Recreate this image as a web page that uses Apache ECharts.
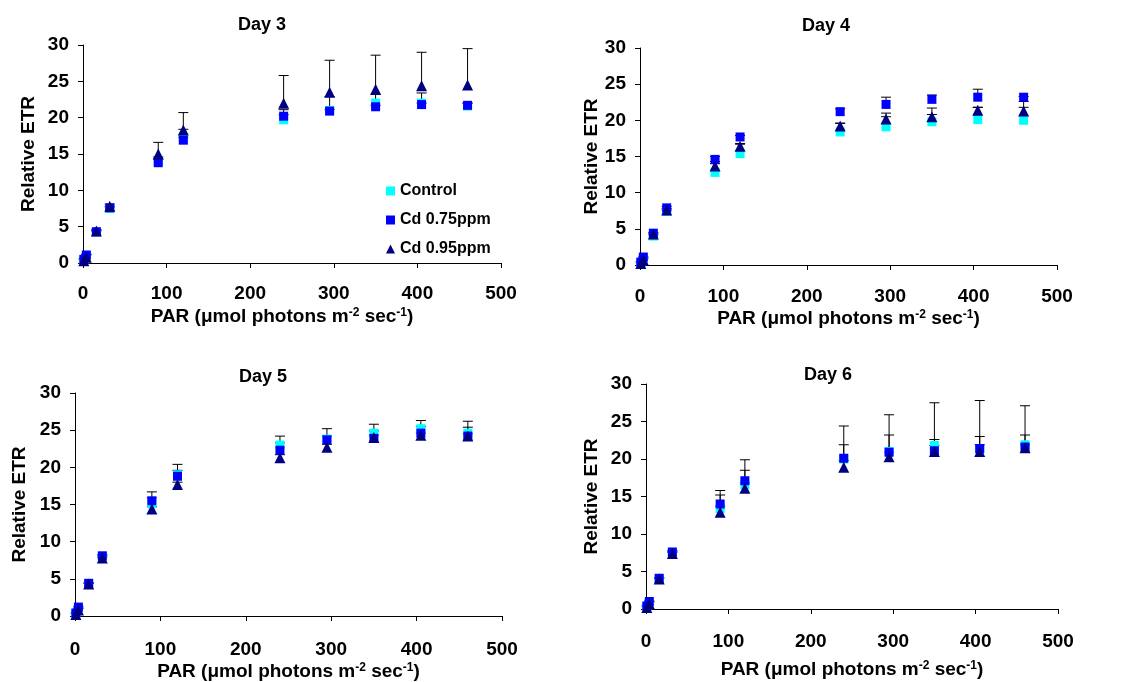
<!DOCTYPE html>
<html>
<head>
<meta charset="utf-8">
<script src="https://cdn.jsdelivr.net/npm/echarts@6/dist/echarts.min.js"></script>
<style>html,body{margin:0;padding:0;background:#fff}#c{width:1148px;height:682px}</style>
</head>
<body>
<div id="c"></div>
<script>
// ---- data ----
const par = [1, 4, 16, 32, 90, 120, 240, 295, 350, 405, 460];
const dayTitles = ['Day 3', 'Day 4', 'Day 5', 'Day 6'];
const seriesNames = ['Control', 'Cd 0.75ppm', 'Cd 0.95ppm'];
const xTicks = [0, 100, 200, 300, 400, 500];
const yTicks = [0, 5, 10, 15, 20, 25, 30];

const day3Control = [0.4, 1.0, 4.3, 7.5, 14.0, 17.0, 19.7, 21.0, 22.0, 22.0, 21.6];
const day3ControlErr = [0.1, 0.2, 0.1, 0.2, 0.6, 1.4, 1.4, 1.9, 1.2, 1.4, 0.4];
const day3Cd075 = [0.5, 1.1, 4.3, 7.6, 13.8, 16.9, 20.2, 20.9, 21.5, 21.8, 21.7];
const day3Cd075Err = [0.1, 0.1, 0.2, 0.2, 0.5, 0.4, 0.2, 0.2, 0.2, 0.2, 0.3];
const day3Cd095 = [0.3, 0.8, 4.4, 7.8, 15.0, 18.3, 22.0, 23.5, 23.9, 24.4, 24.5];
const day3Cd095Err = [0.3, 0.3, 0.2, 0.3, 1.6, 2.4, 3.8, 4.4, 4.7, 4.6, 5.0];

const day4Control = [0.3, 0.8, 4.0, 7.4, 12.8, 15.4, 18.4, 19.1, 19.8, 20.1, 20.0];
const day4ControlErr = [0.1, 0.2, 0.2, 0.2, 1.5, 1.4, 1.2, 1.9, 1.9, 1.7, 2.6];
const day4Cd075 = [0.4, 1.1, 4.4, 7.9, 14.6, 17.7, 21.2, 22.2, 22.9, 23.2, 23.2];
const day4Cd075Err = [0.1, 0.1, 0.1, 0.2, 0.4, 0.2, 0.4, 1.0, 0.6, 1.1, 0.1];
const day4Cd095 = [0.2, 0.7, 4.3, 7.6, 13.7, 16.4, 19.2, 20.2, 20.5, 21.4, 21.3];
const day4Cd095Err = [0.1, 0.2, 0.1, 0.2, 0.3, 0.3, 0.4, 0.3, 0.3, 0.4, 0.5];

const day5Control = [0.3, 1.0, 4.3, 8.0, 15.1, 19.0, 23.0, 23.8, 24.6, 25.2, 24.6];
const day5ControlErr = [0.1, 0.1, 0.1, 0.2, 1.6, 1.4, 1.2, 1.4, 1.2, 1.1, 1.6];
const day5Cd075 = [0.4, 1.2, 4.4, 8.1, 15.5, 18.8, 22.3, 23.7, 23.9, 24.6, 24.2];
const day5Cd075Err = [0.1, 0.1, 0.1, 0.1, 0.4, 0.8, 1.0, 0.5, 1.0, 0.9, 1.2];
const day5Cd095 = [0.2, 0.8, 4.3, 7.8, 14.4, 17.7, 21.3, 22.7, 24.0, 24.3, 24.2];
const day5Cd095Err = [0.1, 0.2, 0.1, 0.1, 0.3, 0.3, 0.4, 0.4, 0.3, 0.3, 0.3];

const day6Control = [0.3, 0.9, 4.0, 7.4, 13.4, 16.6, 20.0, 21.0, 21.8, 21.2, 21.9];
const day6ControlErr = [0.1, 0.1, 0.1, 0.2, 2.4, 3.3, 4.4, 4.9, 5.7, 6.6, 5.2];
const day6Cd075 = [0.4, 1.0, 4.1, 7.6, 14.0, 17.1, 20.1, 20.9, 21.1, 21.4, 21.6];
const day6Cd075Err = [0.1, 0.1, 0.1, 0.2, 1.2, 1.4, 1.8, 2.3, 1.5, 1.6, 1.6];
const day6Cd095 = [0.2, 0.7, 4.0, 7.4, 12.9, 16.1, 18.9, 20.3, 21.0, 21.0, 21.5];
const day6Cd095Err = [0.1, 0.2, 0.1, 0.2, 0.8, 0.7, 0.9, 0.6, 0.8, 0.9, 0.4];

const days = [
  [[day3Control, day3ControlErr], [day3Cd075, day3Cd075Err], [day3Cd095, day3Cd095Err]],
  [[day4Control, day4ControlErr], [day4Cd075, day4Cd075Err], [day4Cd095, day4Cd095Err]],
  [[day5Control, day5ControlErr], [day5Cd075, day5Cd075Err], [day5Cd095, day5Cd095Err]],
  [[day6Control, day6ControlErr], [day6Cd075, day6Cd075Err], [day6Cd095, day6Cd095Err]]
];

// ---- layout / style ----
const FONT = '"Liberation Sans", Arial, sans-serif';
const colors = ['#00FFFF', '#0000FF', '#000080'];
const symbols = ['rect', 'rect', 'triangle'];
const symbolSizes = [9, 9, 11];
const grids = [
  {left: 83, top: 45, width: 418, height: 218},
  {left: 640, top: 48, width: 417, height: 217},
  {left: 75, top: 393, width: 427, height: 226},
  {left: 646, top: 384, width: 412, height: 225}
];
const titlePos = [[257, 11], [821, 12], [258, 363], [823, 361]];
const yNameGaps = [45, 39, 46, 45];
const xNameGaps = [44, 44, 46, 51];
const xNameShift = [20, 0, 0, 0];
const xLabelMargins = [21, 22, 24, 23];

function errItem(params, api) {
  const x = api.value(0), lo = api.value(1), hi = api.value(2);
  const p1 = api.coord([x, lo]);
  const p2 = api.coord([x, hi]);
  const hw = 5;
  return {
    type: 'group',
    children: [
      {type: 'line', shape: {x1: p1[0], y1: p1[1], x2: p2[0], y2: p2[1]}, style: {stroke: '#000', lineWidth: 1}},
      {type: 'line', shape: {x1: p2[0] - hw, y1: p2[1], x2: p2[0] + hw, y2: p2[1]}, style: {stroke: '#000', lineWidth: 1}}
    ]
  };
}

const axisText = {fontFamily: FONT, fontWeight: 'bold', fontSize: 19, color: '#000'};
const xAxes = [], yAxes = [], series = [], titles = [];
grids.forEach((g, i) => {
  titles.push({
    text: dayTitles[i], left: titlePos[i][0], top: titlePos[i][1], textAlign: 'center',
    textStyle: {fontFamily: FONT, fontWeight: 'bold', fontSize: 18, color: '#000'}
  });
  xAxes.push({
    type: 'value', gridIndex: i, min: xTicks[0], max: xTicks[xTicks.length - 1], interval: xTicks[1] - xTicks[0],
    name: 'PAR (μmol photons m{s|-2} sec{s|-1})', nameLocation: 'middle', nameGap: xNameGaps[i],
    nameTextStyle: {
      fontFamily: FONT, fontWeight: 'bold', fontSize: 19, color: '#000',
      padding: [0, xNameShift[i], 0, 0],
      rich: {s: {fontFamily: FONT, fontWeight: 'bold', fontSize: 12, color: '#000', verticalAlign: 'top', lineHeight: 12}}
    },
    axisLine: {onZero: false, lineStyle: {color: '#000', width: 1}},
    axisTick: {show: true, inside: false, length: 5, lineStyle: {color: '#000'}},
    axisLabel: Object.assign({margin: xLabelMargins[i]}, axisText),
    splitLine: {show: false}
  });
  yAxes.push({
    type: 'value', gridIndex: i, min: yTicks[0], max: yTicks[yTicks.length - 1], interval: yTicks[1] - yTicks[0],
    name: 'Relative ETR', nameLocation: 'middle', nameGap: yNameGaps[i], nameRotate: 90,
    nameTextStyle: {fontFamily: FONT, fontWeight: 'bold', fontSize: 19, color: '#000'},
    axisLine: {show: true, onZero: false, lineStyle: {color: '#000', width: 1}},
    axisTick: {show: true, inside: false, length: 5, lineStyle: {color: '#000'}},
    axisLabel: Object.assign({margin: 14}, axisText),
    splitLine: {show: false}
  });
  // error bars first (behind markers)
  days[i].forEach((pair, s) => {
    series.push({
      type: 'custom', xAxisIndex: i, yAxisIndex: i, z: 1, silent: true,
      renderItem: errItem,
      encode: {x: 0, y: [1, 2]},
      data: par.map((x, k) => [x, pair[0][k], pair[0][k] + pair[1][k]])
    });
  });
  days[i].forEach((pair, s) => {
    series.push({
      name: seriesNames[s], type: 'scatter', xAxisIndex: i, yAxisIndex: i, z: 2 + s,
      symbol: symbols[s], symbolSize: symbolSizes[s],
      itemStyle: {color: colors[s], opacity: 1},
      data: par.map((x, k) => [x, pair[0][k]])
    });
  });
});

const chart = echarts.init(document.getElementById('c'), null, {renderer: 'canvas'});
chart.setOption({
  animation: false,
  backgroundColor: '#fff',
  title: titles,
  grid: grids,
  xAxis: xAxes,
  yAxis: yAxes,
  legend: {
    data: seriesNames.map((n, s) => ({name: n, icon: symbols[s] === 'rect' ? 'rect' : 'triangle'})),
    orient: 'vertical', left: 381, top: 178, itemWidth: 9, itemHeight: 9, itemGap: 13,
    textStyle: {fontFamily: FONT, fontWeight: 'bold', fontSize: 16, color: '#000'}
  },
  series: series
});
</script>
</body>
</html>
